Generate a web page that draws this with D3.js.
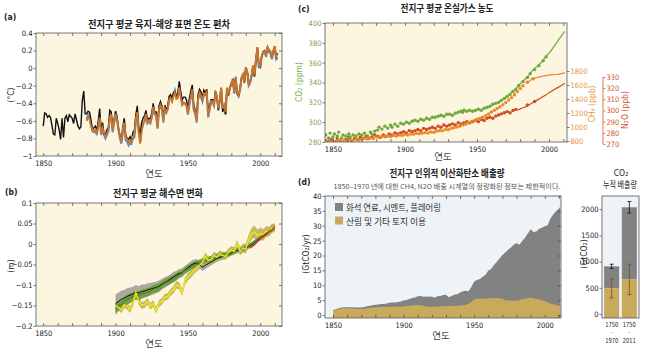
<!DOCTYPE html>
<html>
<head>
<meta charset="utf-8">
<script src="https://cdn.jsdelivr.net/npm/d3@7"></script>
<style>
  body { margin: 0; background: #fff; }
  svg { display: block; }
</style>
</head>
<body>
<svg id="fig" width="645" height="349"></svg>
<script>
// ---------------------------------- DATA

// (a) annual temperature anomaly (°C, vs 1986-2005)
var tempBlack = [
  -0.66,-0.51,-0.52,-0.56,-0.54,-0.56,-0.65,-0.75,-0.76,-0.57,   // 1850-
  -0.63,-0.70,-0.81,-0.57,-0.79,-0.57,-0.54,-0.61,-0.53,-0.55,   // 1860-
  -0.57,-0.63,-0.52,-0.59,-0.66,-0.69,-0.67,-0.37,-0.26,-0.52,   // 1870-
  -0.52,-0.49,-0.50,-0.59,-0.70,-0.68,-0.66,-0.71,-0.60,-0.46,   // 1880-
  -0.71,-0.62,-0.75,-0.76,-0.70,-0.68,-0.48,-0.50,-0.70,-0.58,   // 1890-
  -0.49,-0.55,-0.69,-0.77,-0.81,-0.67,-0.57,-0.76,-0.80,-0.81,   // 1900-
  -0.78,-0.83,-0.73,-0.71,-0.53,-0.43,-0.67,-0.76,-0.62,-0.57,   // 1910-
  -0.54,-0.48,-0.59,-0.57,-0.58,-0.51,-0.40,-0.50,-0.50,-0.64,   // 1920-
  -0.43,-0.38,-0.43,-0.56,-0.42,-0.47,-0.44,-0.32,-0.30,-0.34,   // 1930-
  -0.28,-0.27,-0.32,-0.29,-0.15,-0.27,-0.36,-0.33,-0.33,-0.36,   // 1940-
  -0.46,-0.34,-0.26,-0.19,-0.42,-0.48,-0.56,-0.30,-0.24,-0.27,   // 1950-
  -0.34,-0.25,-0.28,-0.24,-0.51,-0.43,-0.36,-0.36,-0.40,-0.26,   // 1960-
  -0.32,-0.48,-0.36,-0.23,-0.50,-0.44,-0.53,-0.23,-0.31,-0.22,   // 1970-
  -0.18,-0.14,-0.28,-0.10,-0.29,-0.31,-0.24,-0.11,-0.08,-0.16,   // 1980-
   0.01,-0.04,-0.18,-0.15,-0.08, 0.03,-0.09, 0.10, 0.24, 0.03,   // 1990-
   0.01, 0.14, 0.19, 0.20, 0.15, 0.24, 0.21, 0.19, 0.12, 0.20,   // 2000-
   0.25, 0.13, 0.17                                              // 2010-
];
var tempOrange = [
  -0.60,-0.55,-0.58,-0.66,-0.70,-0.72,-0.70,-0.74,-0.66,-0.56,   // 1880-
  -0.74,-0.68,-0.74,-0.78,-0.75,-0.70,-0.55,-0.54,-0.71,-0.60,   // 1890-
  -0.52,-0.58,-0.68,-0.78,-0.84,-0.70,-0.62,-0.79,-0.81,-0.85,   // 1900-
  -0.82,-0.84,-0.78,-0.76,-0.58,-0.50,-0.72,-0.86,-0.72,-0.64,   // 1910-
  -0.60,-0.52,-0.62,-0.60,-0.62,-0.55,-0.44,-0.52,-0.53,-0.68,   // 1920-
  -0.47,-0.42,-0.46,-0.60,-0.46,-0.50,-0.47,-0.36,-0.34,-0.38,   // 1930-
  -0.32,-0.28,-0.35,-0.34,-0.22,-0.33,-0.42,-0.40,-0.40,-0.42,   // 1940-
  -0.52,-0.40,-0.32,-0.24,-0.46,-0.50,-0.60,-0.35,-0.28,-0.31,   // 1950-
  -0.37,-0.29,-0.30,-0.27,-0.55,-0.46,-0.38,-0.38,-0.42,-0.28,   // 1960-
  -0.32,-0.46,-0.36,-0.22,-0.46,-0.42,-0.50,-0.22,-0.30,-0.22,   // 1970-
  -0.17,-0.13,-0.28,-0.10,-0.28,-0.31,-0.24,-0.11,-0.07,-0.16,   // 1980-
   0.01,-0.04,-0.18,-0.15,-0.08, 0.03,-0.08, 0.10, 0.24, 0.03,   // 1990-
   0.02, 0.14, 0.19, 0.19, 0.15, 0.24, 0.20, 0.19, 0.12, 0.20,   // 2000-
   0.25, 0.13, 0.16                                              // 2010-
];
var tempBlue = [
  -0.58,-0.53,-0.56,-0.63,-0.72,-0.73,-0.71,-0.76,-0.67,-0.55,   // 1880-
  -0.76,-0.70,-0.76,-0.80,-0.76,-0.72,-0.56,-0.55,-0.73,-0.62,   // 1890-
  -0.55,-0.60,-0.70,-0.80,-0.86,-0.74,-0.64,-0.82,-0.84,-0.88,   // 1900-
  -0.85,-0.86,-0.80,-0.79,-0.60,-0.52,-0.74,-0.84,-0.70,-0.63,   // 1910-
  -0.61,-0.53,-0.63,-0.61,-0.63,-0.56,-0.45,-0.53,-0.54,-0.69,   // 1920-
  -0.48,-0.43,-0.47,-0.62,-0.47,-0.51,-0.47,-0.35,-0.33,-0.37,   // 1930-
  -0.30,-0.25,-0.33,-0.32,-0.19,-0.31,-0.40,-0.39,-0.41,-0.42,   // 1940-
  -0.53,-0.42,-0.33,-0.26,-0.48,-0.52,-0.62,-0.36,-0.29,-0.33,   // 1950-
  -0.38,-0.30,-0.31,-0.28,-0.56,-0.47,-0.39,-0.39,-0.43,-0.29,   // 1960-
  -0.33,-0.47,-0.37,-0.23,-0.47,-0.43,-0.52,-0.23,-0.31,-0.23,   // 1970-
  -0.18,-0.12,-0.29,-0.11,-0.29,-0.32,-0.25,-0.12,-0.08,-0.17,   // 1980-
   0.00,-0.05,-0.20,-0.17,-0.09, 0.02,-0.10, 0.09, 0.22, 0.01,   // 1990-
   0.01, 0.13, 0.18, 0.18, 0.13, 0.22, 0.18, 0.17, 0.10, 0.17,   // 2000-
   0.22, 0.10, 0.12                                              // 2010-
];
var tempBlackYears = d3.range(1850, 2013);
var tempOtherYears = d3.range(1880, 2013);
var tempTicks = [0.4, 0.2, 0, -0.2, -0.4, -0.6, -0.8, -1];

// (b) sea level change (m), every 2 years 1900-2010
var seaYears = d3.range(1900, 2011, 2);
var seaBlack = [
  -0.145,-0.140,-0.135,-0.132,-0.128,-0.125,-0.122,-0.118,-0.120,-0.116,
  -0.115,-0.112,-0.110,-0.108,-0.106,-0.103,-0.098,-0.094,-0.090,-0.085,
  -0.080,-0.076,-0.072,-0.070,-0.063,-0.058,-0.052,-0.048,-0.046,-0.050,
  -0.057,-0.052,-0.048,-0.044,-0.040,-0.035,-0.033,-0.030,-0.028,-0.025,
  -0.022,-0.018,-0.016,-0.015,-0.012,-0.010,-0.006,-0.002, 0.004, 0.010,
   0.014, 0.019, 0.024, 0.030, 0.036, 0.042
];
var seaBlackErr = [
  0.022,0.022,0.021,0.020,0.020,0.019,0.018,0.018,0.017,0.017,
  0.016,0.016,0.015,0.015,0.014,0.014,0.013,0.013,0.012,0.012,
  0.012,0.011,0.011,0.011,0.010,0.010,0.010,0.010,0.009,0.009,
  0.009,0.009,0.009,0.008,0.008,0.008,0.008,0.008,0.008,0.007,
  0.007,0.007,0.007,0.007,0.007,0.007,0.006,0.006,0.006,0.006,
  0.006,0.006,0.006,0.006,0.006,0.006
];
var seaGreen = [
  -0.160,-0.150,-0.148,-0.140,-0.135,-0.132,-0.128,-0.125,-0.126,-0.122,
  -0.120,-0.118,-0.115,-0.110,-0.108,-0.105,-0.100,-0.095,-0.092,-0.088,
  -0.085,-0.080,-0.075,-0.070,-0.064,-0.060,-0.056,-0.052,-0.048,-0.045,
  -0.042,-0.040,-0.038,-0.036,-0.033,-0.031,-0.029,-0.027,-0.026,-0.024,
  -0.021,-0.018,-0.014,-0.016,-0.012,-0.008,-0.005, 0.000, 0.005, 0.010,
   0.015, 0.020, 0.025, 0.030, 0.035, 0.040
];
var seaGreenErr = [
  0.013,0.013,0.012,0.012,0.012,0.012,0.011,0.011,0.011,0.011,
  0.010,0.010,0.010,0.010,0.010,0.010,0.009,0.009,0.009,0.009,
  0.009,0.009,0.008,0.008,0.008,0.008,0.008,0.008,0.007,0.007,
  0.007,0.007,0.007,0.007,0.006,0.006,0.006,0.006,0.006,0.006,
  0.006,0.006,0.005,0.005,0.005,0.005,0.005,0.005,0.005,0.005,
  0.005,0.005,0.005,0.005,0.005,0.005
];
var seaYellow = [
  -0.150,-0.155,-0.160,-0.148,-0.152,-0.160,-0.145,-0.118,-0.140,-0.150,
  -0.148,-0.140,-0.152,-0.145,-0.162,-0.145,-0.140,-0.130,-0.128,-0.118,
  -0.112,-0.100,-0.102,-0.118,-0.090,-0.080,-0.074,-0.065,-0.058,-0.052,
  -0.045,-0.030,-0.040,-0.038,-0.028,-0.032,-0.025,-0.028,-0.030,-0.020,
  -0.015,-0.018, 0.000,-0.018,-0.010,-0.012, 0.010, 0.025, 0.030, 0.020,
   0.025, 0.022, 0.030, 0.030, 0.038, 0.040
];
var seaYellowErr = [
  0.008,0.008,0.008,0.008,0.008,0.008,0.008,0.008,0.008,0.008,
  0.008,0.008,0.008,0.008,0.008,0.008,0.008,0.008,0.008,0.008,
  0.009,0.009,0.009,0.009,0.009,0.009,0.009,0.009,0.009,0.009,
  0.009,0.009,0.009,0.009,0.009,0.009,0.009,0.009,0.009,0.009,
  0.010,0.010,0.010,0.010,0.011,0.012,0.013,0.014,0.015,0.015,
  0.015,0.014,0.013,0.012,0.011,0.010
];
var seaSatYears = [1993, 1996, 1999, 2002, 2005, 2008, 2010];
var seaSat = [-0.010, -0.002, 0.010, 0.020, 0.028, 0.034, 0.040];
var seaTicks = [0.1, 0.05, 0, -0.05, -0.1, -0.15, -0.2];

// (c) greenhouse gas concentrations: [year, value]
var co2Core = [
  [1845,287],[1847,284],[1848,289],[1850,285],[1851,288],[1853,286],[1854,290],[1856,284],
  [1857,287],[1859,286],[1861,288],[1862,285],[1864,287],[1866,286],[1868,288],[1870,287],
  [1872,289],[1874,286],[1876,290],[1877,288],[1879,291],[1881,292],[1882,295],[1884,293],
  [1886,296],[1888,294],[1890,297],[1891,295],[1893,298],[1895,296],[1897,299],[1899,298],
  [1901,300],[1903,299],[1905,301],[1907,302],[1909,301],[1911,303],[1913,302],[1915,304],
  [1917,303],[1919,305],[1921,305],[1923,306],[1925,307],[1927,306],[1929,308],[1931,308],
  [1933,307],[1935,309],[1937,310],[1939,311],[1940,310],[1941,312],[1943,311],[1945,312],
  [1947,311],[1949,312],[1951,313],[1953,312],[1955,314],[1957,315],[1959,316],[1961,318],
  [1963,319],[1965,320],[1967,322],[1969,324],[1971,326],[1973,328],[1975,331],[1977,333],
  [1979,337],[1982,341],[1985,345],[1987,349],[1990,353],[1993,357],[1996,362],[1998,366]
];
var co2Air = [
  [1959,316.0],[1962,318.4],[1965,320.0],[1968,323.0],[1971,326.3],[1974,330.2],[1977,333.8],
  [1980,338.7],[1983,342.8],[1986,347.2],[1989,353.0],[1992,356.4],[1995,360.8],[1998,366.7],
  [2001,371.1],[2004,377.5],[2007,383.7],[2010,389.9],[2011,391.6]
];
var ch4Core = [
  [1845,790],[1847,805],[1849,780],[1850,800],[1852,795],[1854,810],[1856,790],[1858,815],
  [1860,800],[1862,820],[1864,810],[1866,830],[1868,815],[1870,825],[1872,840],[1874,830],
  [1876,845],[1878,835],[1880,860],[1882,850],[1884,870],[1886,860],[1888,875],[1890,865],
  [1892,880],[1894,870],[1896,885],[1898,880],[1900,895],[1902,885],[1904,900],[1906,895],
  [1908,910],[1910,905],[1912,915],[1914,920],[1916,915],[1918,930],[1920,925],[1922,940],
  [1924,950],[1926,945],[1928,965],[1930,960],[1932,980],[1934,990],[1936,1000],[1938,1010],
  [1940,1030],[1942,1040],[1944,1060],[1946,1075],[1948,1090],[1950,1110],[1952,1125],[1954,1140],
  [1956,1160],[1958,1185],[1960,1215],[1962,1240],[1964,1265],[1966,1290],[1968,1320],[1970,1350],
  [1972,1385],[1974,1420],[1976,1460],[1978,1505],[1980,1550],[1982,1590],[1985,1640],[1989,1690]
];
var ch4Air = [
  [1984,1630],[1986,1655],[1988,1680],[1990,1695],[1992,1710],[1994,1720],[1996,1728],[1998,1735],
  [2000,1742],[2002,1748],[2004,1750],[2006,1752],[2008,1760],[2010,1770],[2011,1776]
];
var n2oCore = [
  [1845,273],[1847,271],[1849,274],[1851,272],[1853,275],[1855,273],[1857,271],[1859,274],
  [1861,276],[1863,273],[1865,275],[1867,274],[1869,276],[1871,275],[1873,277],[1875,275],
  [1877,276],[1879,278],[1881,277],[1883,276],[1885,278],[1887,277],[1889,279],[1891,278],
  [1893,280],[1895,279],[1897,280],[1899,281],[1901,280],[1903,282],[1905,281],[1907,282],
  [1909,283],[1911,282],[1913,284],[1915,283],[1917,284],[1919,285],[1921,284],[1923,286],
  [1925,285],[1927,287],[1929,286],[1931,287],[1933,288],[1935,287],[1937,289],[1939,288],
  [1941,289],[1943,290],[1945,289],[1947,290],[1949,291],[1951,290],[1953,292],[1955,291],
  [1957,293],[1959,294],[1961,293],[1963,295],[1965,296],[1967,297],[1969,298],[1971,299],
  [1973,298],[1975,300],[1977,301],[1985,305],[1990,308]
];
var n2oAir = [
  [1978,300.5],[1980,301.5],[1982,302.5],[1984,303.5],[1986,305.0],[1988,306.5],[1990,308.0],
  [1992,309.5],[1994,311.0],[1996,312.5],[1998,314.0],[2000,316.0],[2002,317.5],[2004,319.0],
  [2006,320.5],[2008,322.0],[2010,323.5],[2011,324.5]
];
var co2Ticks = [280, 300, 320, 340, 360, 380, 400];
var ch4Ticks = [800, 1000, 1200, 1400, 1600, 1800];
var n2oTicks = [270, 280, 290, 300, 310, 320, 330];

// (d) annual CO2 emissions (GtCO2/yr), every 2 years 1850-2010 plus 2011
var emisYears = d3.range(1850, 2011, 2).concat([2011]);
var fossilEmis = [
  0.20, 0.22, 0.26, 0.29, 0.31, 0.33, 0.35, 0.40, 0.44, 0.49,   // 1850-
  0.54, 0.62, 0.66, 0.71, 0.76, 0.86, 0.95, 1.02, 1.04, 1.17,   // 1870-
  1.31, 1.39, 1.43, 1.56, 1.72, 1.95, 2.06, 2.27, 2.50, 2.62,   // 1890-
  2.92, 3.10, 3.05, 3.30, 3.35, 3.40, 3.03, 3.40, 3.47, 3.70,   // 1910-
  3.80, 2.97, 3.40, 3.80, 3.85, 4.40, 4.70, 4.75, 4.20, 4.95,   // 1930-
  6.00, 6.30, 6.60, 7.50, 8.00, 9.40, 9.90,11.10,12.20,13.40,   // 1950-
 14.80,16.00,17.00,17.80,18.80,19.40,18.60,19.50,20.50,21.80,   // 1970-
 23.00,22.30,22.70,23.80,24.30,25.10,26.00,28.60,30.20,31.50,   // 1990-
 32.50,33.40                                                   // 2010, 2011
];
var landEmis = [
  1.4, 1.7, 2.0, 2.2, 2.3, 2.3, 2.3, 2.2, 2.1, 2.0,   // 1850-
  2.0, 2.1, 2.3, 2.4, 2.5, 2.6, 2.6, 2.7, 2.7, 2.7,   // 1870-
  2.8, 2.8, 2.8, 2.8, 2.8, 2.9, 3.0, 3.1, 3.2, 3.3,   // 1890-
  3.4, 3.3, 3.1, 2.9, 2.8, 2.8, 2.8, 2.9, 2.9, 3.0,   // 1910-
  3.0, 3.0, 3.0, 3.1, 3.1, 3.2, 3.3, 3.4, 3.8, 4.5,   // 1930-
  5.3, 5.5, 5.5, 5.4, 5.5, 5.6, 5.6, 5.7, 5.7, 5.6,   // 1950-
  5.4, 5.0, 4.9, 4.9, 4.8, 4.8, 5.0, 5.4, 5.5, 5.6,   // 1970-
  5.8, 5.6, 5.4, 5.2, 5.0, 4.7, 4.2, 3.8, 3.6, 3.4,   // 1990-
  3.2, 3.1                                            // 2010, 2011
];
var emisTicks = [0, 5, 10, 15, 20, 25, 30, 35, 40];
var emisLegend = ["화석 연료, 시멘트, 플레어링", "산림 및 기타 토지 이용"];

// (e) cumulative CO2 emissions (GtCO2)
var cumPeriods = ["1750–1970", "1750–2011"];
var cumLand = [490, 660];
var cumLandErr = [180, 290];
var cumFossil = [420, 1375];
var cumFossilErr = [40, 110];
var cumTicks = [0, 500, 1000, 1500, 2000];

// ---------------------------------- SETUP

var NUM = '"Liberation Sans Narrow","DejaVu Sans Condensed",sans-serif';
var KR = '"Noto Sans CJK KR",sans-serif';
var CREAM = "#fcf5df";
var PALE = "#eef3f8";

var svg = d3.select("#fig");

function label(x, y, str, o) {
  o = o || {};
  var t = svg.append("text")
    .attr("x", x).attr("y", y)
    .attr("text-anchor", o.anchor || "middle")
    .attr("font-family", o.font || KR)
    .attr("font-size", o.size || 9)
    .attr("font-weight", o.weight || "normal")
    .attr("fill", o.color || "#222")
    .text(str);
  if (o.len) t.attr("textLength", o.len).attr("lengthAdjust", "spacingAndGlyphs");
  if (o.rotate) t.attr("transform", "rotate(" + o.rotate + "," + x + "," + y + ")");
  return t;
}

function styleAxis(g, color) {
  g.attr("font-family", NUM).attr("font-size", 7.5);
  g.select(".domain").remove();
  g.selectAll(".tick line").attr("stroke", "#444").attr("stroke-width", 0.7);
  g.selectAll(".tick text").attr("fill", color || "#222");
}

function panel(x0, y0, x1, y1, fill, id) {
  svg.append("rect").attr("x", x0).attr("y", y0)
    .attr("width", x1 - x0).attr("height", y1 - y0).attr("fill", fill);
  svg.append("clipPath").attr("id", id).append("rect")
    .attr("x", x0).attr("y", y0).attr("width", x1 - x0).attr("height", y1 - y0);
  return svg.append("g").attr("clip-path", "url(#" + id + ")");
}

function border(x0, y0, x1, y1) {
  svg.append("rect").attr("x", x0).attr("y", y0)
    .attr("width", x1 - x0).attr("height", y1 - y0)
    .attr("fill", "none").attr("stroke", "#555").attr("stroke-width", 0.8);
}

function yearAxes(x, y0, y1) {
  var ticks = d3.range(1850, 2011, 10);
  svg.append("g").attr("transform", "translate(0," + y1 + ")")
    .call(d3.axisBottom(x).tickValues(ticks).tickSize(-3).tickPadding(5)
      .tickFormat(function (d) { return d % 50 === 0 ? d : ""; }))
    .call(styleAxis);
  svg.append("g").attr("transform", "translate(0," + y0 + ")")
    .call(d3.axisTop(x).tickValues(ticks).tickSize(-3).tickFormat(""))
    .call(styleAxis);
}

function valueAxes(y, x0, x1, ticks, fmt) {
  svg.append("g").attr("transform", "translate(" + x0 + ",0)")
    .call(d3.axisLeft(y).tickValues(ticks).tickSize(2.5).tickPadding(1).tickFormat(fmt))
    .call(styleAxis);
  svg.append("g").attr("transform", "translate(" + x1 + ",0)")
    .call(d3.axisRight(y).tickValues(ticks).tickSize(-3).tickFormat(""))
    .call(styleAxis);
}

var fmtG = d3.format("~g");
var fmtD = d3.format("d");

// ---------------------------------- (a) TEMPERATURE

var xA = d3.scaleLinear().domain([1845, 2015]).range([36, 282]);
var yA = d3.scaleLinear().domain([-1, 0.4]).range([156, 33]);
var gA = panel(36, 33, 282, 156, CREAM, "clipA");

function tempLine(years) {
  return d3.line().x(function (d, i) { return xA(years[i]); }).y(function (d) { return yA(d); });
}
gA.append("path").attr("d", tempLine(tempOtherYears)(tempBlue))
  .attr("fill", "none").attr("stroke", "#5b8fd6").attr("stroke-width", 2);
gA.append("path").attr("d", tempLine(tempBlackYears)(tempBlack))
  .attr("fill", "none").attr("stroke", "#111").attr("stroke-width", 1.4);
gA.append("path").attr("d", tempLine(tempOtherYears)(tempOrange))
  .attr("fill", "none").attr("stroke", "#c9762c").attr("stroke-width", 1.9);

yearAxes(xA, 33, 156);
valueAxes(yA, 36, 282, tempTicks, fmtG);
border(36, 33, 282, 156);

label(4, 20, "(a)", { anchor: "start", font: NUM, size: 8.5, weight: "bold" });
label(159, 28, "전지구 평균 육지-해양 표면 온도 편차", { size: 10, weight: "bold", len: 142 });
label(14, 95, "(°C)", { font: NUM, size: 8.5, rotate: -90 });
label(154, 177, "연도", { size: 9.5, color: "#444" });

// ---------------------------------- (b) SEA LEVEL

var yB = d3.scaleLinear().domain([-0.2, 0.1]).range([326, 203]);
var gB = panel(36, 203, 282, 326, CREAM, "clipB");

function band(vals, errs) {
  return d3.area()
    .x(function (d, i) { return xA(seaYears[i]); })
    .y0(function (d, i) { return yB(vals[i] - errs[i]); })
    .y1(function (d, i) { return yB(vals[i] + errs[i]); })(vals);
}
function seaLine(years, vals) {
  return d3.line().x(function (d, i) { return xA(years[i]); }).y(function (d) { return yB(d); })(vals);
}

gB.append("path").attr("d", band(seaBlack, seaBlackErr)).attr("fill", "#a9a9a4");
gB.append("path").attr("d", band(seaYellow, seaYellowErr)).attr("fill", "#b9ad4e").attr("opacity", 0.85);
gB.append("path").attr("d", band(seaGreen, seaGreenErr)).attr("fill", "#6f9a3a").attr("opacity", 0.9);
gB.append("path").attr("d", seaLine(seaYears, seaBlack))
  .attr("fill", "none").attr("stroke", "#111").attr("stroke-width", 1);
gB.append("path").attr("d", seaLine(seaYears, seaGreen))
  .attr("fill", "none").attr("stroke", "#3f7d24").attr("stroke-width", 1);
gB.append("path").attr("d", seaLine(seaYears, seaYellow))
  .attr("fill", "none").attr("stroke", "#f2e41c").attr("stroke-width", 1.5);
gB.append("path").attr("d", seaLine(seaSatYears, seaSat))
  .attr("fill", "none").attr("stroke", "#d1221c").attr("stroke-width", 1.3);

yearAxes(xA, 203, 326);
valueAxes(yB, 36, 282, seaTicks, fmtG);
border(36, 203, 282, 326);

label(5, 195, "(b)", { anchor: "start", font: NUM, size: 8.5, weight: "bold" });
label(158, 197, "전지구 평균 해수면 변화", { size: 10, weight: "bold", len: 90 });
label(14, 266, "(m)", { font: NUM, size: 8.5, rotate: -90 });
label(154, 347, "연도", { size: 9.5, color: "#444" });

// ---------------------------------- (c) GREENHOUSE GASES

var xC = d3.scaleLinear().domain([1844.5, 2012.5]).range([325, 567]);
var yCO2 = d3.scaleLinear().domain([280, 400]).range([142, 23]);
var yCH4 = d3.scaleLinear().domain([800, 1800]).range([141, 71]);
var yN2O = d3.scaleLinear().domain([270, 330]).range([144, 77]);
var gC = panel(325, 23, 567, 142, CREAM, "clipC");

var GREEN = "#6fa83e", ORANGE = "#e8892c", RED = "#d04a1c";

function gasLine(y, pts, color) {
  gC.append("path")
    .attr("d", d3.line().x(function (d) { return xC(d[0]); }).y(function (d) { return y(d[1]); })(pts))
    .attr("fill", "none").attr("stroke", color).attr("stroke-width", 1.2);
}
function gasDots(y, pts, color) {
  gC.selectAll(null).data(pts).enter().append("circle")
    .attr("cx", function (d) { return xC(d[0]); })
    .attr("cy", function (d) { return y(d[1]); })
    .attr("r", 1.7).attr("fill", color);
}
gasLine(yCO2, co2Air, GREEN);
gasLine(yCH4, ch4Air, ORANGE);
gasLine(yN2O, n2oAir, RED);
gasDots(yN2O, n2oCore, RED);
gasDots(yCH4, ch4Core, ORANGE);
gasDots(yCO2, co2Core, GREEN);

yearAxes(xC, 23, 142);
svg.append("g").attr("transform", "translate(325,0)")
  .call(d3.axisLeft(yCO2).tickValues(co2Ticks).tickSize(2.5).tickPadding(1).tickFormat(fmtD))
  .call(styleAxis, "#7aa84a");
svg.append("g").attr("transform", "translate(567,0)")
  .call(d3.axisRight(yCH4).tickValues(ch4Ticks).tickSize(2.5).tickPadding(1).tickFormat(fmtD))
  .call(styleAxis, "#e8953c");
var n2oAxis = svg.append("g").attr("transform", "translate(603,0)")
  .call(d3.axisRight(yN2O).tickValues(n2oTicks).tickSize(2.5).tickPadding(1).tickFormat(fmtD))
  .call(styleAxis, "#d2562e");
n2oAxis.append("line").attr("y1", yN2O(270)).attr("y2", yN2O(330))
  .attr("stroke", "#d2562e").attr("stroke-width", 0.8);
n2oAxis.selectAll(".tick line").attr("stroke", "#d2562e");
border(325, 23, 567, 142);

label(298, 12, "(c)", { anchor: "start", font: NUM, size: 8.5, weight: "bold" });
label(447, 12, "전지구 평균 온실가스 농도", { size: 10, weight: "bold", len: 93 });
label(302, 82, "CO₂ (ppm)", { font: NUM, size: 8.5, rotate: -90, color: "#7aa84a" });
label(595, 104, "CH₄ (ppb)", { font: NUM, size: 8.5, rotate: -90, color: "#e8953c" });
label(628, 110, "N₂O (ppb)", { font: NUM, size: 8.5, rotate: -90, color: "#d2562e" });
label(443, 160, "연도", { size: 9.5, color: "#444" });

// ---------------------------------- (d) EMISSIONS

var xD = d3.scaleLinear().domain([1844.3, 2011.5]).range([325, 561]);
var yD = d3.scaleLinear().domain([-1, 40]).range([318, 196]);
var gD = panel(325, 196, 561, 318, PALE, "clipD");

var landArea = d3.area()
  .x(function (d, i) { return xD(emisYears[i]); })
  .y0(yD(0) + 4)
  .y1(function (d) { return yD(d); });
var totalArea = d3.area()
  .x(function (d, i) { return xD(emisYears[i]); })
  .y0(yD(0) + 4)
  .y1(function (d, i) { return yD(d + landEmis[i]); });

gD.append("path").attr("d", totalArea(fossilEmis)).attr("fill", "#828282");
gD.append("path").attr("d", landArea(landEmis)).attr("fill", "#c9aa5c");

var legColors = ["#828282", "#c9aa5c"];
emisLegend.forEach(function (name, i) {
  svg.append("rect").attr("x", 335).attr("y", 203 + i * 13.5)
    .attr("width", 8).attr("height", 8).attr("fill", legColors[i]);
  label(346, 211 + i * 13.5, name, { anchor: "start", size: 9, color: "#333", len: i ? 80 : 95 });
});

yearAxes(xD, 196, 318);
valueAxes(yD, 325, 561, emisTicks, fmtG);
border(325, 196, 561, 318);

label(298, 185, "(d)", { anchor: "start", font: NUM, size: 8.5, weight: "bold" });
label(447, 177, "전지구 인위적 이산화탄소 배출량", { size: 10, weight: "bold", len: 115 });
label(447, 189, "1850–1970 년에 대한 CH4, N2O 배출 시계열의 정량화된 정보는 제한적이다.",
  { size: 6.5, color: "#555", len: 227 });
label(309, 254, "(GtCO₂/yr)", { font: NUM, size: 8.5, rotate: -90 });
label(441, 339, "연도", { size: 9.5, color: "#444" });

// ---------------------------------- (e) CUMULATIVE EMISSIONS

var xE = d3.scaleBand().domain(cumPeriods).range([602, 639]).paddingInner(0.15).paddingOuter(0.12);
var yE = d3.scaleLinear().domain([-75, 2250]).range([318, 196]);
var gE = panel(602, 196, 639, 318, PALE, "clipE");

gE.selectAll("rect.fossil").data(cumPeriods).enter().append("rect")
  .attr("class", "fossil")
  .attr("x", function (d) { return xE(d); })
  .attr("width", xE.bandwidth())
  .attr("y", function (d, i) { return yE(cumLand[i] + cumFossil[i]); })
  .attr("height", function (d, i) { return yE(cumLand[i]) - yE(cumLand[i] + cumFossil[i]); })
  .attr("fill", "#828282");
gE.selectAll("rect.land").data(cumPeriods).enter().append("rect")
  .attr("class", "land")
  .attr("x", function (d) { return xE(d); })
  .attr("width", xE.bandwidth())
  .attr("y", function (d, i) { return yE(cumLand[i]); })
  .attr("height", function (d, i) { return yE(0) + 4 - yE(cumLand[i]); })
  .attr("fill", "#c9aa5c");

function errBars(mid, err, color) {
  cumPeriods.forEach(function (p, i) {
    var cx = xE(p) + xE.bandwidth() / 2;
    var lo = yE(mid[i] - err[i]), hi = yE(mid[i] + err[i]);
    gE.append("line").attr("x1", cx).attr("x2", cx).attr("y1", lo).attr("y2", hi)
      .attr("stroke", color).attr("stroke-width", 0.8);
    [lo, hi].forEach(function (yy) {
      gE.append("line").attr("x1", cx - 2).attr("x2", cx + 2).attr("y1", yy).attr("y2", yy)
        .attr("stroke", color).attr("stroke-width", 0.8);
    });
  });
}
errBars(cumLand.map(function (v, i) { return v + cumFossil[i]; }), cumFossilErr, "#111");
errBars(cumLand, cumLandErr, "#6e5418");

svg.append("g").attr("transform", "translate(602,0)")
  .call(d3.axisLeft(yE).tickValues(cumTicks).tickSize(2.5).tickPadding(1).tickFormat(fmtD))
  .call(styleAxis);
border(602, 196, 639, 318);

// period labels under each bar: first year, dash, last year
cumPeriods.forEach(function (p) {
  var cx = xE(p) + xE.bandwidth() / 2;
  var parts = p.split("–");
  label(cx, 327, parts[0], { font: NUM, size: 7, len: 13 });
  label(cx, 334, "–", { font: NUM, size: 4.5 });
  label(cx, 343, parts[1], { font: NUM, size: 7, len: 13 });
});
label(621, 176, "CO₂", { font: NUM, size: 8.5 });
label(620, 188, "누적 배출량", { size: 9, len: 34 });
label(587, 254, "(GtCO₂)", { font: NUM, size: 8.5, rotate: -90 });
</script>
</body>
</html>
